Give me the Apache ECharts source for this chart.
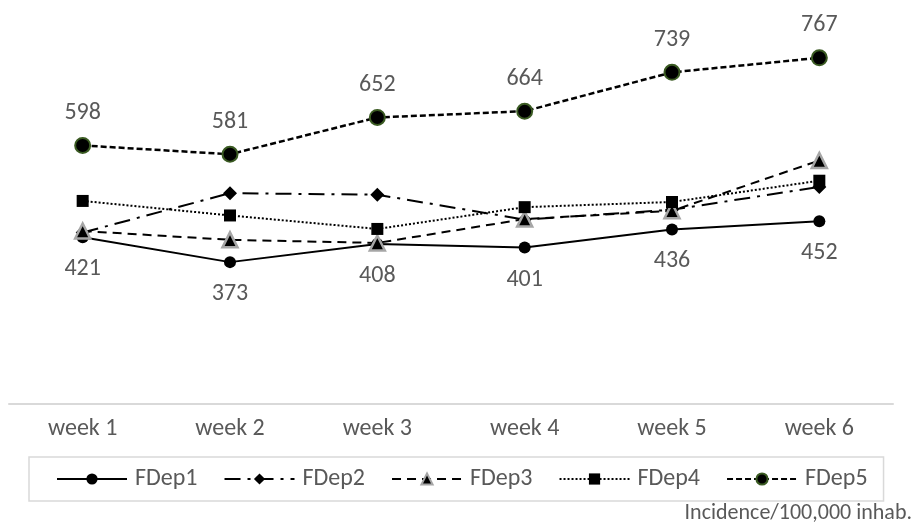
<!DOCTYPE html>
<html><head><meta charset="utf-8">
<script src="https://cdn.jsdelivr.net/npm/echarts@6/dist/echarts.min.js"></script>
<style>html,body{margin:0;padding:0;background:#fff}#c{width:915px;height:525px}</style>
</head><body><div id="c"></div>
<script>
const categories = ['week 1','week 2','week 3','week 4','week 5','week 6'];
const seriesNames = ['FDep1','FDep2','FDep3','FDep4','FDep5'];
const fdep1 = [421, 373, 408, 401, 436, 452];
const fdep2 = [430, 506, 503, 455, 474, 518];
const fdep3 = [433, 416, 410, 456, 472, 569];
const fdep4 = [491, 463, 437, 479, 489, 530];
const fdep5 = [598, 581, 652, 664, 739, 767];
const footnote = 'Incidence/100,000 inhab.';

const FONT = "Carlito, 'Liberation Sans Narrow', 'Liberation Sans', sans-serif";
const TXT = '#595959';
const chart = echarts.init(document.getElementById('c'));
const lbl = (pos, d) => ({show:true, position:pos, distance:d, color:TXT, fontSize:24, fontFamily:FONT});
chart.setOption({
  animation:false,
  textStyle:{fontFamily:FONT},
  grid:{left:9, right:22, top:40.7, bottom:121.3},
  xAxis:{type:'category', data:categories, boundaryGap:true,
    axisLine:{lineStyle:{color:'#d9d9d9', width:2}}, axisTick:{show:false},
    axisLabel:{color:TXT, fontSize:24, fontFamily:FONT, margin:13}},
  yAxis:{type:'value', min:100, max:800, show:false, splitLine:{show:false}},
  legend:{data:seriesNames, left:29, top:457, itemWidth:70, itemHeight:14, itemGap:26,
    borderColor:'#d9d9d9', borderWidth:1.5, padding:[10,16,10,27],
    textStyle:{color:TXT, fontSize:24, fontFamily:FONT, padding:[0,0,0,3]}},
  graphic:[{type:'text', right:3, top:502, style:{text:footnote, fill:TXT, fontSize:22, fontFamily:FONT}}],
  series:[
    {name:'FDep1', type:'line', data:fdep1, symbol:'circle', symbolSize:12,
      itemStyle:{color:'#000'}, lineStyle:{color:'#000', width:2}, label:lbl('bottom', 14), z:2},
    {name:'FDep2', type:'line', data:fdep2, symbol:'diamond', symbolSize:14,
      itemStyle:{color:'#000'}, lineStyle:{color:'#000', width:2, type:[16,7,3,7]}, z:3},
    {name:'FDep3', type:'line', data:fdep3, symbol:'triangle', symbolSize:15,
      itemStyle:{color:'#000', borderColor:'#a6a6a6', borderWidth:2.5}, lineStyle:{color:'#000', width:2, type:[9,6]}, z:4},
    {name:'FDep4', type:'line', data:fdep4, symbol:'rect', symbolSize:12,
      itemStyle:{color:'#000'}, lineStyle:{color:'#000', width:2, type:[2,2]}, z:5},
    {name:'FDep5', type:'line', data:fdep5, symbol:'circle', symbolSize:15,
      itemStyle:{color:'#000', borderColor:'#3a5a22', borderWidth:2}, lineStyle:{color:'#000', width:2.5, type:[6,3]}, label:lbl('top', 12), z:6}
  ]
});
</script></body></html>
